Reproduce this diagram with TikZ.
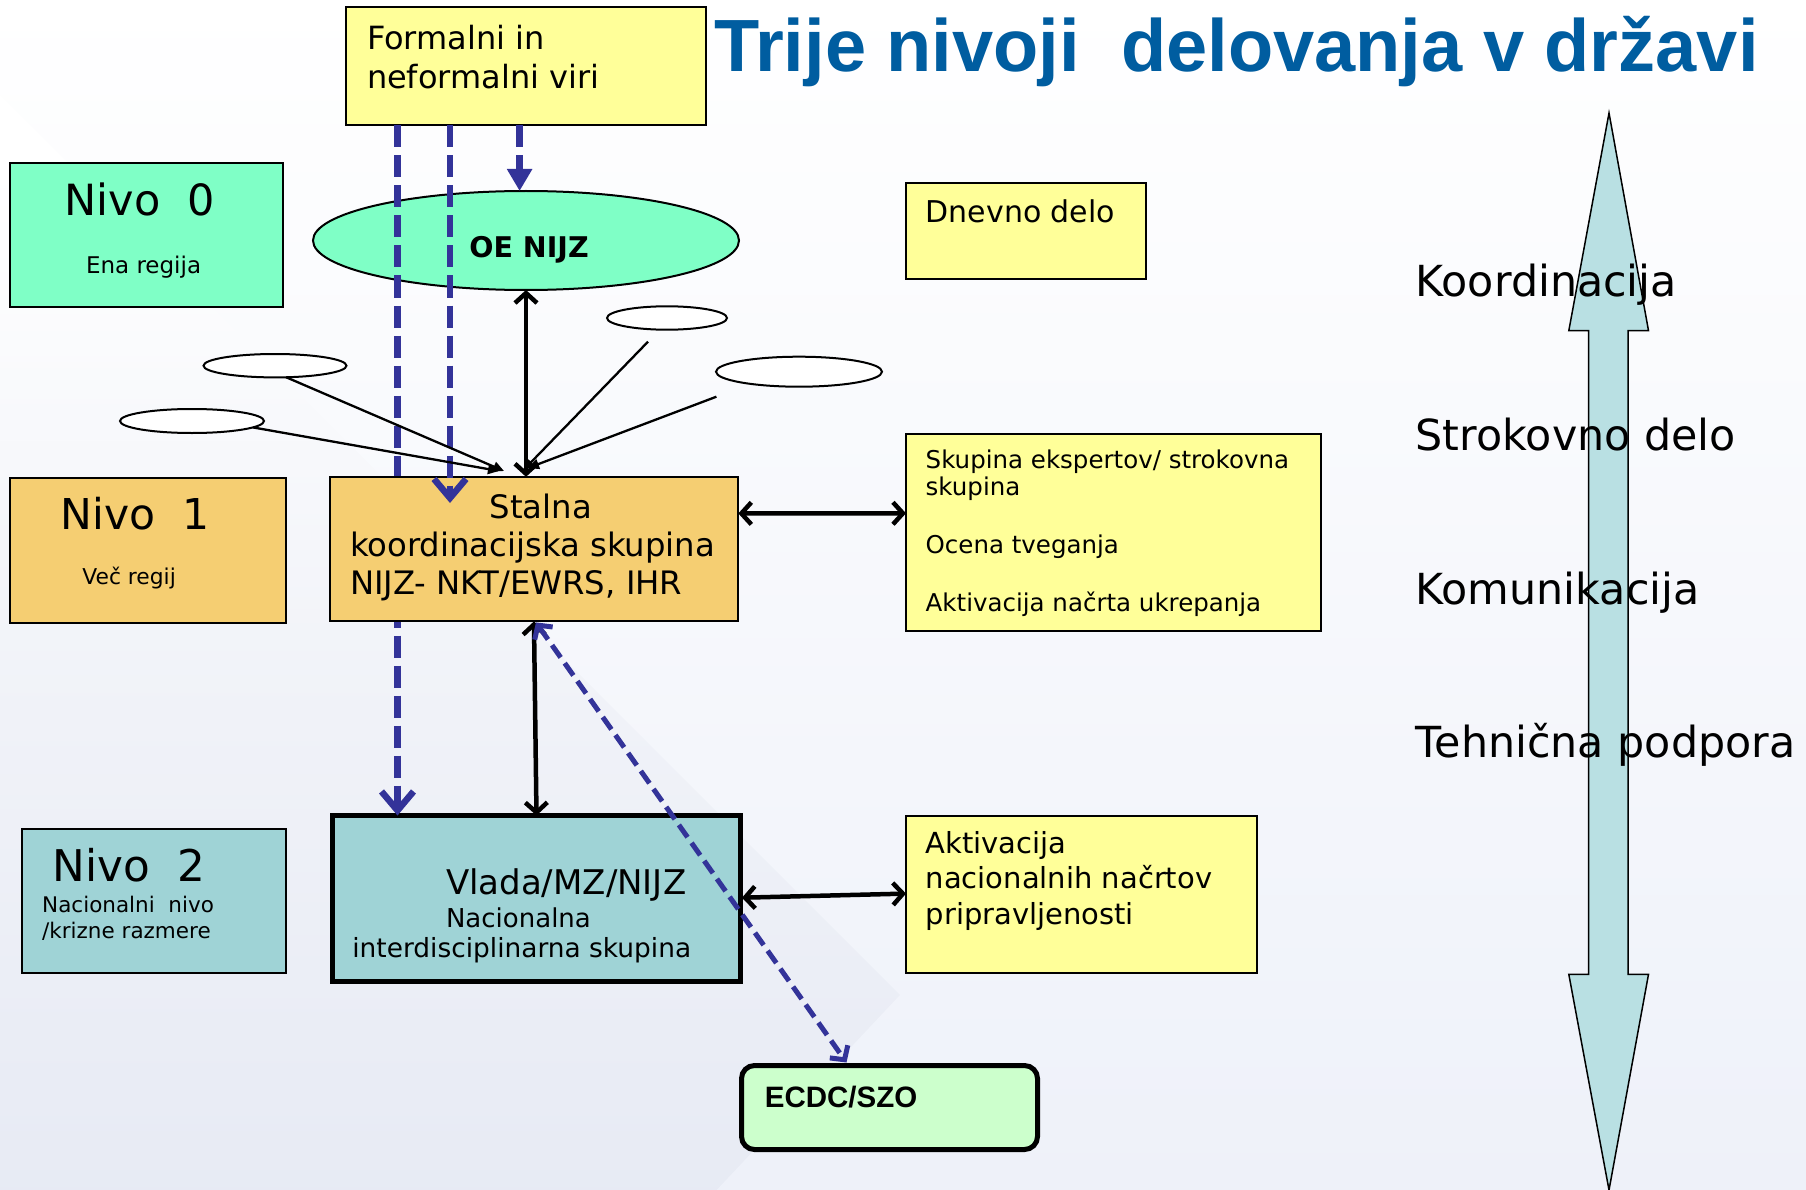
\documentclass[tikz,border=0pt]{standalone}
\usepackage{fontspec}
\setmainfont{DejaVu Sans}
\newfontfamily\arialf{Liberation Sans}
\usetikzlibrary{arrows.meta,shapes.geometric,calc}
\definecolor{mint}{HTML}{7FFFC6}
\definecolor{apricot}{HTML}{F5CE72}
\definecolor{tealbox}{HTML}{9FD3D6}
\definecolor{lightyel}{HTML}{FFFF99}
\definecolor{ecdcg}{HTML}{CCFFCC}
\definecolor{arrowc}{HTML}{B9E0E3}
\definecolor{dblue}{HTML}{333399}
\definecolor{titleb}{HTML}{005DA0}
\definecolor{bgbot}{HTML}{DCE1EF}
\definecolor{bgmid}{HTML}{F0F2F8}
\definecolor{bglight}{HTML}{EEF1F9}
\pgfdeclareverticalshading{bgleft}{100bp}{color(0bp)=(bgbot); color(45bp)=(bgmid); color(68bp)=(white); color(100bp)=(white)}
\newcommand\myfs[2]{\fontsize{#1}{#2}\selectfont}
\begin{document}
\begin{tikzpicture}[x=1pt,y=-1pt,
  box/.style={draw=black, line width=2pt, inner sep=0pt, outer sep=0pt, anchor=north west},
  txt/.style={anchor=base west, inner sep=0pt, outer sep=0pt, text=black},
  ell/.style={ellipse, draw=black, line width=2pt, inner sep=0pt, outer sep=0pt, fill=white},
  bluedash/.style={draw=dblue, line width=6.5pt, dash pattern=on 22pt off 8pt},
  bluehead/.style={-{Straight Barb[length=19pt,width=32pt,line width=6.5pt]}},
  thickblk/.style={draw=black, line width=4.5pt, {Straight Barb[length=10pt,width=22pt]}-{Straight Barb[length=10pt,width=22pt]}},
  thinblk/.style={draw=black, line width=2.3pt, -{Triangle[length=11pt,width=10pt]}},
]
\useasboundingbox (0,0) rectangle (1806,1190);
% background
\shade[shading=bgleft] (0,0) rectangle (1806,1190);
\shade[top color=white, bottom color=bglight] (900,995) -- (-5,90) -- (-5,-5) -- (1811,-5) -- (1811,1195) -- (712,1195) -- cycle;

% big double arrow
\draw[fill=arrowc, draw=black, line width=1.5pt] (1609,113) -- (1648.5,330.7) -- (1628,330.7) -- (1628,974.3) -- (1648.5,974.3) -- (1609,1190) -- (1568.8,974.3) -- (1588.6,974.3) -- (1588.6,330.7) -- (1568.8,330.7) -- cycle;

% title
\node[txt, font=\arialf\bfseries\myfs{74}{88}, text=titleb] (title) at (714,71.7) {Trije nivoji\ \ delovanja v državi};

% boxes
\node[box, fill=lightyel, minimum width=360.5pt, minimum height=118pt] (formal) at (345.5,7.5) {};
\node[box, fill=mint, minimum width=273pt, minimum height=144pt] (nivo0) at (9.7,162.7) {};
\node[box, fill=lightyel, minimum width=239.7pt, minimum height=96.3pt] (dnevno) at (906,182.7) {};
\node[box, fill=apricot, minimum width=276.3pt, minimum height=144.7pt] (nivo1) at (9.7,478.2) {};
\node[box, fill=lightyel, minimum width=414.6pt, minimum height=196.4pt] (skupina) at (906,434.3) {};
\node[box, fill=tealbox, minimum width=264.2pt, minimum height=144.3pt] (nivo2) at (21.8,828.6) {};
\node[box, fill=tealbox, line width=5pt, minimum width=408pt, minimum height=166pt] (vlada) at (332.5,815.5) {};
\node[box, fill=lightyel, minimum width=351pt, minimum height=157.2pt] (aktiv) at (906,815.6) {};
\node[box, fill=ecdcg, line width=5pt, rounded corners=13pt, minimum width=296pt, minimum height=84pt] (ecdc) at (741.5,1065.5) {};

% ellipses
\node[ell, fill=mint, minimum width=426pt, minimum height=99pt] (oe) at (526,240.5) {};
\node[ell, minimum width=143pt, minimum height=23.4pt] (e1) at (275,365.7) {};
\node[ell, minimum width=144pt, minimum height=24pt] (e2) at (192,421) {};
\node[ell, minimum width=120pt, minimum height=23.4pt] (e3) at (667,318) {};
\node[ell, minimum width=166pt, minimum height=30pt] (e4) at (799,371.7) {};

% dashed line A (behind Stalna box)
\coordinate (ax) at (397.5,0);
\draw[bluedash, bluehead] (formal.south -| ax) -- (ax |- vlada.north);

% Stalna box
\node[box, fill=apricot, minimum width=408.7pt, minimum height=144.6pt] (stalna) at (329.6,476.8) {};

% dashed B and C
\coordinate (bx) at (450,0);
\coordinate (btip) at (450,503);
\draw[bluedash, bluehead] (formal.south -| bx) -- (btip);
\coordinate (cx) at (519.6,0);
\draw[bluedash, -{Triangle[length=22pt,width=24pt]}] (formal.south -| cx) -- (cx |- oe.north);

% converging thin arrows
\coordinate (t2) at (499,471);
\coordinate (t1) at (504,471);
\coordinate (t3) at (523.5,470);
\coordinate (t4) at (528,468);
\coordinate (s3) at (648,341.7);
\coordinate (s4) at (716.4,396.7);
\draw[thinblk] (e2.-6) -- (t2);
\draw[thinblk] (e1.-46) -- (t1);
\draw[thinblk] (s3) -- (t3);
\draw[thinblk] (s4) -- (t4);

% thick black arrows
\draw[thickblk] (oe.south) -- (oe.south |- stalna.north);
\draw[thickblk] (stalna.south) -- (vlada.north);
\draw[thickblk] ($(stalna.north east)+(0,36.6)$) -- ($(skupina.north west)+(0,79)$);
\draw[thickblk] ($(vlada.north east)+(1.5,82.2)$) -- ($(aktiv.north west)+(0,78)$);

% diagonal dashed
\draw[draw=dblue, line width=5pt, dash pattern=on 15pt off 7pt, {Straight Barb[length=10pt,width=22pt]}-{Straight Barb[length=10pt,width=22pt]}] ($(stalna.south)+(2,1)$) -- ($(ecdc.north west)+(105,-3)$);

% texts
\node[txt, font=\myfs{32}{38}] (f1) at (367,50) {Formalni in};
\node[txt, font=\myfs{32}{38}] (f2) at (367,88.3) {neformalni viri};
\node[txt, font=\myfs{43}{50}] (n0a) at (64.5,216) {Nivo\ \ 0};
\node[txt, font=\myfs{23}{26}] (n0b) at (86,273) {Ena regija};
\node[txt, font=\myfs{42.5}{50}] (n1a) at (60.6,529.3) {Nivo\ \ 1};
\node[txt, font=\myfs{21.8}{26}] (n1b) at (82.4,584.6) {Več regij};
\node[txt, font=\myfs{43.7}{50}] (n2a) at (52.5,881) {Nivo\ \ 2};
\node[txt, font=\myfs{21.5}{26}] (n2b) at (42.2,912) {Nacionalni\ \ nivo};
\node[txt, font=\myfs{21.5}{26}] (n2c) at (42.2,938.2) {/krizne razmere};
\node[anchor=base, inner sep=0pt, font=\bfseries\myfs{28.5}{32}] (oet) at (529,257.7) {OE NIJZ};
\node[txt, font=\myfs{32.3}{38}] (st1) at (489.6,518.6) {Stalna};
\node[txt, font=\myfs{32.3}{38}] (st2) at (350,556) {koordinacijska skupina};
\node[txt, font=\myfs{32.3}{38}] (st3) at (350,594.3) {NIJZ- NKT/EWRS, IHR};
\node[txt, font=\myfs{30}{35}] (dn) at (925.7,222.7) {Dnevno delo};
\node[txt, font=\myfs{24.5}{29}] (sk1) at (925.7,468) {Skupina ekspertov/ strokovna};
\node[txt, font=\myfs{24.5}{29}] (sk2) at (925.7,495.7) {skupina};
\node[txt, font=\myfs{24.5}{29}] (sk3) at (925.7,553.6) {Ocena tveganja};
\node[txt, font=\myfs{24.5}{29}] (sk4) at (925.7,611.6) {Aktivacija načrta ukrepanja};
\node[txt, font=\myfs{29}{35}] (ak1) at (925.7,853.4) {Aktivacija};
\node[txt, font=\myfs{29}{35}] (ak2) at (925.7,888.7) {nacionalnih načrtov};
\node[txt, font=\myfs{29}{35}] (ak3) at (925.7,924) {pripravljenosti};
\node[txt, font=\myfs{34}{38}] (vl1) at (446,894.6) {Vlada/MZ/NIJZ};
\node[txt, font=\myfs{26}{31}] (vl2) at (446,927.5) {Nacionalna};
\node[txt, font=\myfs{26.4}{31}] (vl3) at (352.4,957.9) {interdisciplinarna skupina};
\node[txt, font=\arialf\bfseries\myfs{29.5}{34}] (ec) at (764.9,1107.8) {ECDC/SZO};
\node[txt, font=\myfs{42.8}{50}] (r1) at (1415.8,296.7) {Koordinacija};
\node[txt, font=\myfs{42.8}{50}] (r2) at (1415.8,450.4) {Strokovno delo};
\node[txt, font=\myfs{42.8}{50}] (r3) at (1415.8,604) {Komunikacija};
\node[txt, font=\myfs{42.8}{50}] (r4) at (1415.8,757.7) {Tehnična podpora};
\end{tikzpicture}
\end{document}
